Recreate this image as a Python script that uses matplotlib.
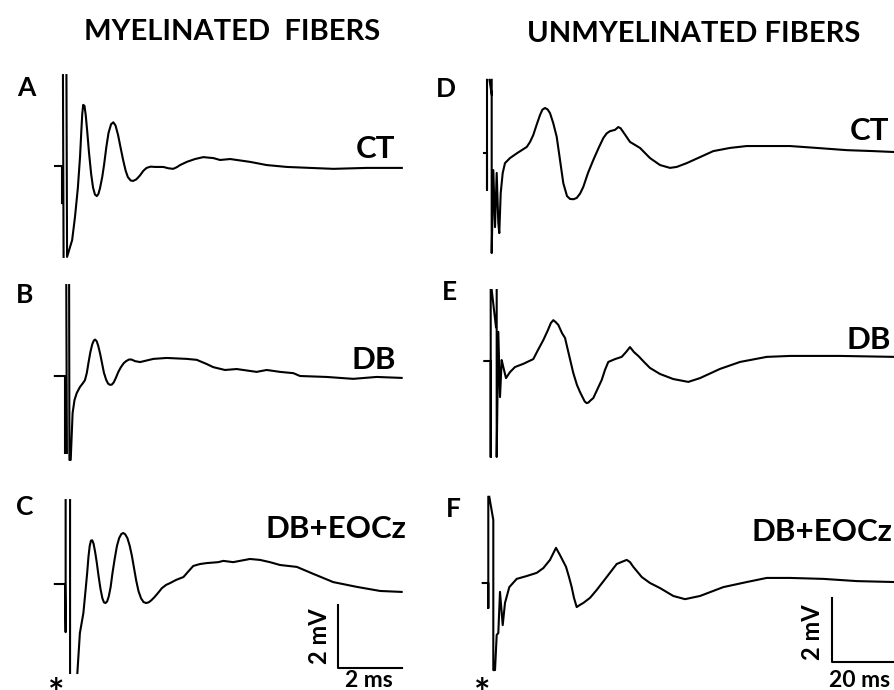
import matplotlib
matplotlib.use("Agg")
import matplotlib.pyplot as plt
import numpy as np

nan = np.nan

# traces: time in ms from stimulus, voltage in mV from baseline
a_t = [-0.22, 0.00, 0.00, nan, 0.03, 0.05, nan, 0.14, 0.16, 0.32, 0.41, 0.50, 0.57, 0.61, 0.64, 0.67,
       0.71, 0.75, 0.80, 0.85, 0.92, 0.98, 1.04, 1.10, 1.15, 1.20, 1.27, 1.33, 1.40, 1.47, 1.55,
       1.62, 1.69, 1.77, 1.85, 1.93, 2.01, 2.08, 2.17, 2.25, 2.35, 2.46, 2.57, 2.67, 2.80, 2.94,
       3.20, 3.35, 3.51, 3.62, 3.73, 3.94, 4.20, 4.46, 4.78, 4.99, 5.31, 5.94, 6.46, 7.10, 7.83,
       8.57, 9.62, 10.73]
a_v = [0.00, 0.00, -1.17, nan, 2.87, -2.87, nan, 2.87, -2.87, -2.34, -1.61, -0.70, 0.30, 1.10, 1.65, 1.93,
       1.90, 1.60, 1.05, 0.45, -0.25, -0.68, -0.90, -0.95, -0.88, -0.70, -0.35, 0.05, 0.60, 1.05, 1.32,
       1.38, 1.28, 0.98, 0.58, 0.19, -0.15, -0.35, -0.46, -0.47, -0.42, -0.30, -0.15, -0.06, -0.02, -0.03,
       -0.03, -0.07, -0.09, -0.04, 0.03, 0.13, 0.22, 0.28, 0.25, 0.19, 0.22, 0.13, 0.03, -0.03, -0.06,
       -0.09, -0.06, -0.06]

b_t = [-0.32, 0.00, 0.00, nan, 0.04, 0.06, nan, 0.13, 0.14, 0.18, 0.24, 0.30, 0.37, 0.47, 0.57, 0.63,
       0.69, 0.74, 0.80, 0.86, 0.91, 0.95, 1.00, 1.05, 1.11, 1.17, 1.23, 1.30, 1.36, 1.42, 1.48,
       1.54, 1.61, 1.68, 1.76, 1.85, 1.93, 2.02, 2.10, 2.21, 2.37, 2.79, 3.21, 3.85, 4.16, 4.47,
       4.68, 5.05, 5.42, 6.05, 6.37, 6.79, 7.21, 7.42, 8.26, 9.10, 9.84, 10.63]
b_v = [0.00, 0.00, -2.43, nan, 2.87, -2.43, nan, 2.87, -2.65, -2.65, -1.17, -0.76, -0.54, -0.35, -0.22, -0.13,
       0.10, 0.41, 0.75, 1.00, 1.12, 1.15, 1.10, 0.95, 0.70, 0.40, 0.10, -0.12, -0.24, -0.28, -0.27,
       -0.20, -0.05, 0.12, 0.27, 0.40, 0.47, 0.52, 0.52, 0.47, 0.44, 0.54, 0.57, 0.54, 0.51, 0.38,
       0.28, 0.19, 0.22, 0.13, 0.19, 0.13, 0.09, 0.00, -0.03, -0.09, -0.03, -0.06]

c_t = [-0.32, 0.00, 0.02, 0.02, nan, 0.16, 0.16, nan, 0.39, 0.47, 0.58, 0.65, 0.70, 0.74, 0.78, 0.82,
       0.86, 0.90, 0.95, 1.00, 1.06, 1.12, 1.18, 1.23, 1.28, 1.33, 1.38, 1.44, 1.50, 1.57, 1.64,
       1.71, 1.78, 1.84, 1.90, 1.97, 2.04, 2.11, 2.18, 2.25, 2.32, 2.40, 2.48, 2.56, 2.64, 2.72,
       2.82, 2.94, 3.06, 3.19, 3.32, 3.51, 3.74, 3.88, 4.05, 4.26, 4.47, 4.84, 5.00, 5.31, 5.84,
       6.16, 6.47, 6.79, 7.32, 7.84, 8.47, 9.21, 9.95, 10.63]
c_v = [0.00, 0.00, -1.52, 2.65, nan, 2.65, -2.81, nan, -2.81, -1.55, -0.92, -0.19, 0.35, 0.85, 1.20, 1.37,
       1.38, 1.28, 1.02, 0.70, 0.25, -0.15, -0.45, -0.58, -0.60, -0.55, -0.40, -0.10, 0.35, 0.80, 1.20,
       1.45, 1.58, 1.61, 1.57, 1.45, 1.22, 0.90, 0.50, 0.10, -0.22, -0.45, -0.57, -0.60, -0.58, -0.52,
       -0.42, -0.28, -0.13, -0.03, 0.03, 0.13, 0.22, 0.38, 0.57, 0.63, 0.66, 0.69, 0.73, 0.69, 0.79,
       0.76, 0.69, 0.60, 0.54, 0.32, 0.06, -0.09, -0.22, -0.25]

d_t = [-0.95, 0.00, 0.00, 0.00, nan, 0.79, 1.48, nan, 1.48, 1.48, 1.99, 2.53, 3.06, 3.57, 3.88, 4.33,
       4.96, 5.68, 7.26, 9.57, 12.54, 13.60, 14.62, 15.70, 16.74, 17.50, 18.31, 19.10, 19.89, 20.90,
       22.01, 23.05, 24.09, 25.26, 26.21, 27.30, 28.32, 29.40, 30.41, 31.89, 33.57, 35.20, 36.72,
       37.80, 38.84, 40.42, 41.46, 42.20, 43.04, 45.15, 48.31, 51.47, 54.63, 57.78, 59.90, 63.06,
       67.26, 71.46, 76.73, 82.00, 88.32, 95.67, 104.10, 113.58, 121.98, 128.83]
d_v = [0.00, 0.00, -1.17, 2.31, nan, 2.31, 1.85, nan, 2.31, -3.16, -0.54, -2.34, -0.63, -2.21, -2.53, -1.26,
       -0.63, -0.32, -0.16, 0.00, 0.19, 0.35, 0.57, 0.90, 1.20, 1.37, 1.42, 1.38, 1.26, 0.95,
       0.51, -0.22, -0.95, -1.36, -1.45, -1.46, -1.42, -1.28, -1.07, -0.63, -0.22, 0.15, 0.47,
       0.62, 0.69, 0.73, 0.82, 0.78, 0.66, 0.35, 0.16, -0.16, -0.38, -0.47, -0.44, -0.32,
       -0.13, 0.06, 0.16, 0.22, 0.22, 0.22, 0.16, 0.09, 0.06, 0.03]

e_t = [-2.02, 0.00, 0.00, 0.00, nan, 0.32, 1.67, nan, 1.89, 1.89, 2.40, 2.94, 3.47, 3.98, 4.83, 6.09,
       7.67, 10.29, 13.45, 14.94, 16.61, 18.09, 19.00, 19.77, 20.50, 21.35, 22.52, 23.46, 24.73,
       26.08, 27.25, 28.20, 29.14, 29.70, 30.31, 30.90, 31.35, 32.40, 33.56, 35.05, 36.09, 37.13,
       39.25, 41.36, 42.72, 43.98, 45.25, 46.61, 48.41, 50.30, 53.46, 57.66, 62.39, 66.09, 72.40,
       78.72, 87.15, 94.51, 110.30, 127.67]
e_v = [0.00, 0.00, -3.03, 2.24, nan, 2.24, 1.07, nan, 2.24, -3.03, 0.92, -1.14, 0.03, -0.19, -0.54, -0.35,
       -0.19, -0.09, 0.06, 0.35, 0.66, 0.98, 1.20, 1.29, 1.23, 1.14, 0.88, 0.73, 0.19,
       -0.38, -0.76, -0.98, -1.17, -1.28, -1.33, -1.31, -1.26, -1.17, -0.92, -0.60, -0.28, -0.03,
       0.06, 0.13, 0.28, 0.44, 0.28, 0.16, -0.03, -0.22, -0.41, -0.57, -0.66, -0.54, -0.25,
       -0.03, 0.13, 0.16, 0.16, 0.13]

f_t = [-1.77, 0.00, 0.00, 0.00, nan, 0.32, 1.58, 1.58, 2.12, 2.65, 3.16, 3.69, 4.55, 5.27, 6.63, 8.97,
       12.13, 15.28, 17.37, 19.48, 21.38, 22.64, 24.54, 25.48, 26.33, 27.06, 27.91, 28.96, 30.00,
       32.11, 34.23, 37.39, 40.54, 43.70, 44.74, 45.79, 48.44, 51.06, 54.22, 58.42, 62.11, 66.85,
       74.20, 81.59, 87.91, 95.27, 105.78, 116.33, 128.42]
f_v = [0.00, 0.00, -0.79, 2.72, nan, 2.72, 1.99, -2.75, -2.75, -1.64, -1.58, -0.28, -1.33, -0.63, -0.13, 0.13,
       0.22, 0.32, 0.47, 0.73, 1.11, 0.88, 0.51, 0.19, -0.13, -0.47, -0.76, -0.69, -0.63,
       -0.47, -0.22, 0.19, 0.60, 0.73, 0.66, 0.51, 0.19, 0.00, -0.16, -0.41, -0.51, -0.41,
       -0.13, 0.03, 0.16, 0.16, 0.13, 0.06, 0.03]

panel_letters = ["A", "B", "C", "D", "E", "F"]
conditions = ["CT", "DB", "DB+EOCz", "CT", "DB", "DB+EOCz"]
column_titles = ["MYELINATED  FIBERS", "UNMYELINATED FIBERS"]

W, H = 895, 690
FONT = "Lato"

fig = plt.figure(figsize=(W / 100, H / 100), dpi=100)
fig.patch.set_facecolor("white")


def fx(x):
    return x / W


def fy(y):
    return 1 - y / H


def panel(box, x0, y0, kx, ky):
    # axes in ms / mV, placed so the trace scale matches the scale bars
    bx0, by0, bx1, by1 = box
    ax = fig.add_axes([fx(bx0), fy(by1), (bx1 - bx0) / W, (by1 - by0) / H])
    ax.set_xlim((bx0 - x0) / kx, (bx1 - x0) / kx)
    ax.set_ylim((y0 - by1) / ky, (y0 - by0) / ky)
    ax.axis("off")
    return ax


k_left = 31.67   # px per ms and per mV
k_right = 3.167  # px per ms (right column)

layout = [
    # box, x0, y0, kx
    ((40, 60, 447, 270), 62.0, 166.0, k_left),
    ((40, 270, 447, 480), 65.0, 376.0, k_left),
    ((40, 480, 447, 690), 65.0, 584.0, k_left),
    ((447, 60, 895, 270), 487.0, 153.0, k_right),
    ((447, 270, 895, 480), 490.7, 361.0, k_right),
    ((447, 480, 895, 690), 488.3, 583.0, k_right),
]
traces = [(a_t, a_v), (b_t, b_v), (c_t, c_v), (d_t, d_v), (e_t, e_v), (f_t, f_v)]

axes = []
for (box, x0, y0, kx), (t, v) in zip(layout, traces):
    ax = panel(box, x0, y0, kx, k_left)
    ax.plot(t, v, color="black", lw=1.5, clip_on=False, solid_joinstyle="round")
    axes.append(ax)

# scale bars
axes[2].plot([8.63, 8.63, 10.63], [-0.66, -2.66, -2.66], color="black", lw=1.5, clip_on=False)
axes[5].plot([108.5, 108.5, 128.5], [-0.48, -2.48, -2.48], color="black", lw=1.5, clip_on=False)

# text
fig.text(fx(232), fy(40), column_titles[0], fontsize=21, fontweight="bold", family=FONT,
         ha="center", va="baseline")
fig.text(fx(694), fy(42), column_titles[1], fontsize=21, fontweight="bold", family=FONT,
         ha="center", va="baseline")

letter_pos = [(26, 96), (25, 303), (25, 515), (446, 97), (449, 300), (453, 517)]
for lab, (x, y) in zip(panel_letters, letter_pos):
    fig.text(fx(x), fy(y), lab, fontsize=19, fontweight="bold", family=FONT, ha="center", va="baseline")

cond_pos = [(376, 158), (374, 369), (336, 538), (870, 140), (869, 349), (822, 541)]
for lab, (x, y) in zip(conditions, cond_pos):
    fig.text(fx(x), fy(y), lab, fontsize=22.5, fontweight="bold", family=FONT, ha="center", va="baseline")

fig.text(fx(320), fy(636), "2 mV", fontsize=17, fontweight="bold", family=FONT, rotation=90,
         ha="center", va="center")
fig.text(fx(369), fy(687), "2 ms", fontsize=16.5, fontweight="bold", family=FONT, ha="center", va="baseline")
fig.text(fx(813), fy(632), "2 mV", fontsize=17, fontweight="bold", family=FONT, rotation=90,
         ha="center", va="center")
fig.text(fx(860), fy(687), "20 ms", fontsize=16.5, fontweight="bold", family=FONT, ha="center", va="baseline")

fig.text(fx(56), fy(706), "*", fontsize=28, fontweight="bold", family=FONT, ha="center", va="baseline")
fig.text(fx(482), fy(706), "*", fontsize=28, fontweight="bold", family=FONT, ha="center", va="baseline")

plt.savefig("out.png", dpi=100)
